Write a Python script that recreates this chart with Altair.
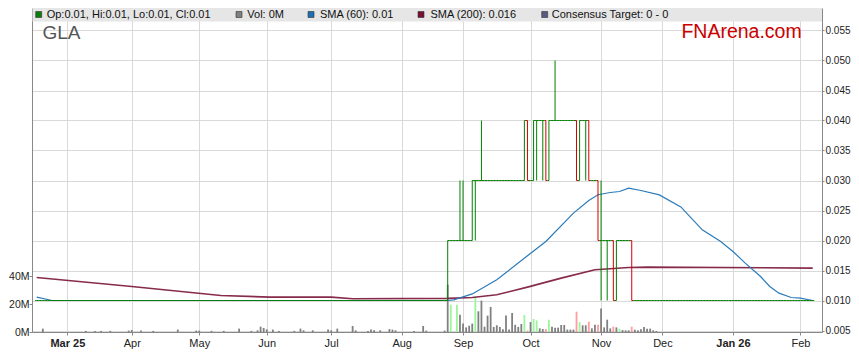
import json
import altair as alt
import pandas as pd

# ---------------- sessions: one bar per weekday (the source skips one August session)
sessions = pd.bdate_range("2025-02-17", "2026-02-06")
sessions = sessions[sessions != pd.Timestamp("2025-08-15")]
N = len(sessions)

# ---------------- daily prices (A$) ----------------
base_price = 0.010          # every session outside the active spell: O = H = L = C = 0.010
active_first = "2025-08-25"  # first session of the active spell (61 sessions)
act_open = [0.01, 0.02, 0.02, 0.02, 0.02, 0.02, 0.02, 0.02, 0.02, 0.03, 0.03, 0.03,
            0.03, 0.03, 0.03, 0.03, 0.03, 0.03, 0.03, 0.03, 0.03, 0.03, 0.03, 0.03, 0.03,
            0.03, 0.04, 0.03, 0.03, 0.04, 0.04, 0.04, 0.04, 0.03, 0.04, 0.04,
            0.04, 0.04, 0.04, 0.04, 0.04, 0.04,
            0.04, 0.03, 0.04, 0.04, 0.04, 0.03, 0.03, 0.03, 0.02, 0.02, 0.02, 0.02, 0.02,
            0.01, 0.02, 0.02, 0.02, 0.02, 0.02]
act_high = [0.02, 0.02, 0.02, 0.02, 0.03, 0.03, 0.02, 0.02, 0.03, 0.03, 0.03, 0.04,
            0.03, 0.03, 0.03, 0.03, 0.03, 0.03, 0.03, 0.03, 0.03, 0.03, 0.03, 0.03, 0.03,
            0.04, 0.04, 0.03, 0.04, 0.04, 0.04, 0.04, 0.04, 0.04, 0.04, 0.05,
            0.04, 0.04, 0.04, 0.04, 0.04, 0.04,
            0.04, 0.04, 0.04, 0.04, 0.04, 0.03, 0.03, 0.03, 0.03, 0.02, 0.02, 0.02, 0.02,
            0.02, 0.02, 0.02, 0.02, 0.02, 0.02]
act_low = [0.01, 0.02, 0.02, 0.02, 0.02, 0.02, 0.02, 0.02, 0.02, 0.02, 0.03, 0.03,
           0.03, 0.03, 0.03, 0.03, 0.03, 0.03, 0.03, 0.03, 0.03, 0.03, 0.03, 0.03, 0.03,
           0.03, 0.03, 0.03, 0.03, 0.03, 0.04, 0.03, 0.03, 0.03, 0.04, 0.04,
           0.04, 0.04, 0.04, 0.04, 0.04, 0.04,
           0.03, 0.03, 0.04, 0.03, 0.03, 0.03, 0.03, 0.02, 0.01, 0.02, 0.01, 0.02, 0.01,
           0.01, 0.02, 0.02, 0.02, 0.02, 0.01]
act_close = [0.02, 0.02, 0.02, 0.02, 0.02, 0.02, 0.02, 0.02, 0.03, 0.03, 0.03, 0.03,
             0.03, 0.03, 0.03, 0.03, 0.03, 0.03, 0.03, 0.03, 0.03, 0.03, 0.03, 0.03, 0.03,
             0.04, 0.03, 0.03, 0.04, 0.04, 0.04, 0.04, 0.03, 0.04, 0.04, 0.04,
             0.04, 0.04, 0.04, 0.04, 0.04, 0.04,
             0.03, 0.04, 0.04, 0.04, 0.03, 0.03, 0.03, 0.02, 0.02, 0.02, 0.02, 0.02, 0.01,
             0.02, 0.02, 0.02, 0.02, 0.02, 0.01]

# ---------------- volume (millions of shares) by session number ----------------
vol_session = [2, 16, 19, 21, 24, 30, 31, 34, 38, 46, 52, 53, 57, 61, 66, 70, 72, 73, 74, 75,
               77, 79, 84, 86, 87, 90, 95, 96, 98, 103, 104, 108, 109, 110, 112, 115, 116,
               117, 123, 126, 127, 133,
               134, 135, 137, 138, 139, 140, 141, 142, 143, 144, 145, 146, 147, 148, 149,
               150, 151, 152, 153, 154, 155, 156, 157, 158, 159, 160, 161, 162, 163, 164,
               165, 166, 167, 168, 169, 170, 171, 172, 173, 174, 175, 176, 177, 178, 179,
               180, 181, 182, 183, 184, 185, 186, 187, 188, 189, 190, 191, 192, 193, 194,
               195, 196, 197, 198, 199, 200, 201, 202]
vol_millions = [2.4, 0.8, 0.8, 0.8, 0.8, 1.0, 1.4, 1.0, 0.8, 1.7, 1.0, 1.0, 0.8, 0.8, 2.4,
                0.8, 1.2, 3.8, 2.9, 1.9, 1.7, 0.8, 0.8, 2.4, 1.2, 1.2, 1.7, 1.2, 2.4, 4.3,
                1.2, 0.8, 1.7, 1.2, 1.2, 2.1, 1.7, 1.2, 0.8, 4.3, 1.0, 1.0,
                33.8, 19.5, 19.5, 12.4, 6.0, 3.3, 4.5, 6.0, 24.8, 14.8, 22.4, 3.8, 11.7,
                17.9, 3.6, 4.8, 3.6, 1.9, 11.7, 1.7, 13.6, 5.2, 3.6, 5.7, 12.1, 1.0, 7.1,
                9.3, 8.3, 2.6, 2.1, 2.1, 8.8, 3.8, 3.1, 3.1, 5.0, 5.0, 1.7, 1.7, 1.7, 14.5,
                7.1, 4.8, 4.8, 7.4, 2.6, 5.2, 5.2, 16.7, 3.3, 8.8, 2.6, 3.8, 3.3, 2.4, 1.4,
                1.2, 1.2, 3.8, 1.7, 1.2, 1.9, 3.6, 2.4, 2.4, 1.2, 0.7]
vol_kind = (["flat"] * 42 +
            ["flat", "up", "up", "flat", "flat", "flat", "flat", "flat", "up", "flat",
             "flat", "flat", "flat", "flat", "flat", "flat", "flat", "flat", "flat", "flat",
             "flat", "flat", "flat", "flat", "up", "down", "flat", "up", "up", "flat",
             "flat", "down", "up", "flat", "flat", "flat", "flat", "flat", "flat", "flat",
             "flat", "down", "up", "flat", "flat", "down", "flat", "flat", "down", "flat",
             "flat", "flat", "flat", "down", "flat", "up", "flat", "flat", "flat", "down",
             "flat", "flat", "flat", "flat", "flat", "flat", "flat", "flat"])

# ---------------- moving averages (knots) ----------------
sma60_session = [0, 5, 134, 136, 142, 150, 160, 166, 175, 180, 183, 187, 190, 193, 197,
                 203, 210, 217, 223, 227, 231, 236, 239, 242, 246, 249, 253]
sma60_value = [0.01057, 0.0100, 0.0100, 0.0101, 0.0111, 0.01345, 0.01745, 0.01983, 0.02457,
               0.02667, 0.02762, 0.0280, 0.02817, 0.02873, 0.02833, 0.0276, 0.0256, 0.02178,
               0.01983, 0.01817, 0.01623, 0.0140, 0.01233, 0.01123, 0.0105, 0.0104, 0.0100]
sma200_session = [0, 31, 60, 76, 96, 103, 134, 142, 150, 160, 171, 182, 193, 199, 253]
sma200_value = [0.01383, 0.01233, 0.01083, 0.01057, 0.01057, 0.01028, 0.01035, 0.0105,
                0.01095, 0.01223, 0.01373, 0.01512, 0.0155, 0.01557, 0.0154]

legend_labels = ["Op:0.01, Hi:0.01, Lo:0.01, Cl:0.01", "Vol: 0M", "SMA (60): 0.01",
                 "SMA (200): 0.016", "Consensus Target: 0 - 0"]
ticker = "GLA"
brand = "FNArena.com"
price_ticks = [0.005, 0.010, 0.015, 0.020, 0.025, 0.030, 0.035, 0.040, 0.045, 0.050, 0.055]
vol_ticks = [0, 20, 40]

# ---------------- tables ----------------
a0 = sessions.get_loc(pd.Timestamp(active_first))
rows = []
for i in range(N):
    k = i - a0
    if 0 <= k < len(act_open):
        o, h, l, c = act_open[k], act_high[k], act_low[k], act_close[k]
    else:
        o = h = l = c = base_price
    rows.append(dict(i=i, xl=i - 0.5, xr=i + 0.5, open=o, high=h, low=l, close=c,
                     dir="price up" if c >= o else "price down"))
ohlc = pd.DataFrame(rows)
vol_df = pd.DataFrame(dict(i=vol_session, v=vol_millions, kind=[f"vol {k}" for k in vol_kind]))
sma60_df = pd.DataFrame(dict(i=sma60_session, v=sma60_value))
sma200_df = pd.DataFrame(dict(i=sma200_session, v=sma200_value))

month_pos = [i for i in range(1, N) if sessions[i].month != sessions[i - 1].month]
month_lab = [sessions[i].strftime("%b %y") if (k == 0 or sessions[i].month == 1)
             else sessions[i].strftime("%b") for k, i in enumerate(month_pos)]
bold_pos = [p for k, p in enumerate(month_pos) if k == 0 or sessions[p].month == 1]

# ---------------- geometry / styles ----------------
W, H = 790, 324
FONT = "Liberation Sans"
GRID = "#d9d9d9"
AX = "#888888"
P0 = 0.00475                      # puts every 0.005 level on a pixel centre
x_scale = alt.Scale(domain=[0.1, 254.4], nice=False, zero=False)
price_scale = alt.Scale(domain=[P0, P0 + H / 6000], nice=False, zero=False)
vol_scale = alt.Scale(domain=[0, H / 1.4], nice=False, zero=False)

x_axis = alt.Axis(
    values=month_pos,
    labelExpr=f"{json.dumps(month_lab)}[indexof({json.dumps(month_pos)}, datum.value)]",
    grid=True, gridColor=GRID, domainColor=AX, tickColor=AX, tickSize=3, labelPadding=2,
    labelFont=FONT, labelFontSize=11, labelColor="#222222", labelFlush=False,
    labelOverlap=False, title=None,
    labelFontWeight={"condition": {"test": " || ".join(f"datum.value == {p}" for p in bold_pos),
                                   "value": "bold"}, "value": "normal"},
)
price_axis = alt.Axis(orient="right", values=price_ticks, format=".3f", grid=True,
                      gridColor=GRID, domainColor=AX, tickColor=AX, tickSize=2,
                      labelPadding=1, labelFont=FONT, labelFontSize=10,
                      labelColor="#222222", title=None)
vol_axis = alt.Axis(orient="left", values=vol_ticks, labelExpr="datum.value + 'M'", grid=False,
                    domainColor=AX, tickColor=AX, tickSize=3, labelPadding=0,
                    labelFont=FONT, labelFontSize=10.5, labelColor="#222222", title=None)


def X(field="i"):
    return alt.X(f"{field}:Q", scale=x_scale, axis=x_axis)


def PY(field):
    return alt.Y(f"{field}:Q", scale=price_scale, axis=price_axis)


dir_color = alt.Color("dir:N", scale=alt.Scale(domain=["price up", "price down"],
                                               range=["#008000", "#d00000"]), legend=None)

vol = alt.Chart(vol_df).mark_bar(size=1.8, clip=True).encode(
    x=X(), y=alt.Y("v:Q", scale=vol_scale, axis=vol_axis),
    color=alt.Color("kind:N", scale=alt.Scale(domain=["vol up", "vol down", "vol flat"],
                                              range=["#9cf59c", "#ff9c9c", "#808080"]), legend=None),
)

sma200 = alt.Chart(sma200_df).mark_line(color="#7a1436", strokeWidth=1.6, opacity=0.9, clip=True).encode(
    x=X(), y=PY("v"))
sma60 = alt.Chart(sma60_df).mark_line(color="#2b7bba", strokeWidth=1.2, clip=True).encode(
    x=X(), y=PY("v"))

wick = alt.Chart(ohlc).transform_filter("datum.high > datum.low").mark_rule(
    strokeWidth=1, clip=True).encode(x=X(), y=PY("low"), y2="high:Q", color=dir_color)
open_tick = alt.Chart(ohlc).mark_rule(strokeWidth=1, clip=True).encode(
    x=X("xl"), x2="i:Q", y=PY("open"), color=dir_color)
close_tick = alt.Chart(ohlc).mark_rule(strokeWidth=1, clip=True).encode(
    x=X("i"), x2="xr:Q", y=PY("close"), color=dir_color)

price_group = alt.layer(sma200, sma60, wick, open_tick, close_tick)

one = pd.DataFrame({"a": [0]})
deco = [alt.Chart(one).mark_rect(color="#e6e6e6").encode(
    x=alt.value(0.5), x2=alt.value(W), y=alt.value(0), y2=alt.value(13.5))]

sq_x = [3.7, 204, 276, 386, 509.7]
tx_x = [14.7, 215.3, 288, 398.5, 519.7]
sq_col = ["#0a7d0a", "#808080", "#1f6fb0", "#7a1030", "#5a5a80"]
for sx, tx, col, lab in zip(sq_x, tx_x, sq_col, legend_labels):
    deco.append(alt.Chart(one).mark_rect(color=col, stroke="#333333", strokeWidth=0.6).encode(
        x=alt.value(sx), x2=alt.value(sx + 6), y=alt.value(3.5), y2=alt.value(9.5)))
    deco.append(alt.Chart(one).mark_text(align="left", baseline="middle", font=FONT, fontSize=11,
                                         color="#111111").encode(
        x=alt.value(tx), y=alt.value(7), text=alt.value(lab)))

deco.append(alt.Chart(one).mark_text(align="left", baseline="alphabetic", font=FONT, fontSize=19,
                                     color="#555555").encode(
    x=alt.value(10.5), y=alt.value(31.3), text=alt.value(ticker)))
deco.append(alt.Chart(one).mark_text(align="right", baseline="alphabetic", font=FONT, fontSize=19.5,
                                     color="#cc0000").encode(
    x=alt.value(769.7), y=alt.value(30.3), text=alt.value(brand)))

chart = alt.layer(vol, price_group, *deco).resolve_scale(
    y="independent", color="independent").properties(
    width=W, height=H,
    padding={"left": 24, "top": 0, "right": 29, "bottom": 18},
    autosize=alt.AutoSizeParams(type="none"),
).configure_view(stroke=None)

chart.save("out.html", embed_options={"renderer": "svg", "actions": False})
